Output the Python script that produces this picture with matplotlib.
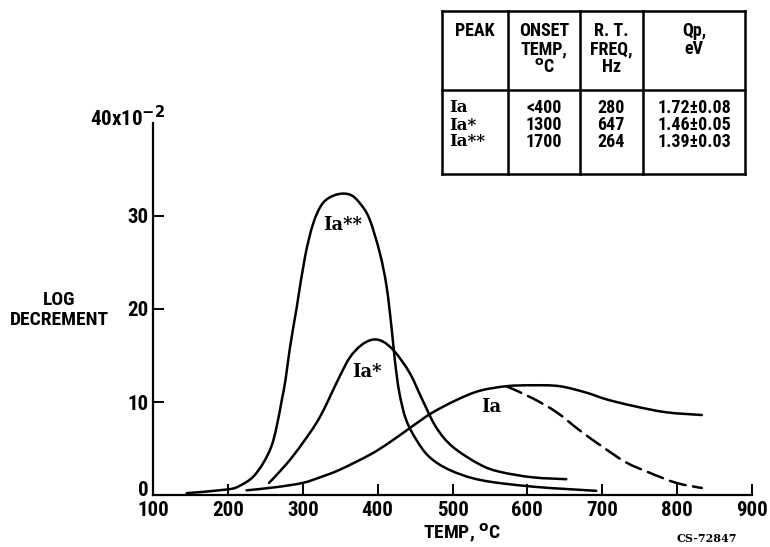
import numpy as np
import matplotlib
matplotlib.use("Agg")
import matplotlib.pyplot as plt
from matplotlib.lines import Line2D
from matplotlib.path import Path
from matplotlib.patches import PathPatch
import matplotlib.transforms as mtransforms

plt.rcParams["font.family"] = ["Roboto Condensed", "Liberation Sans Narrow", "DejaVu Sans"]
plt.rcParams["font.weight"] = "bold"

# peak Ia**
t_ia2 = [145, 200, 216, 233, 247, 258, 265, 272, 277, 283, 292, 303, 314, 327, 345,
         363, 376, 389, 403, 412, 419, 423, 429, 438, 452, 469, 496, 538, 607, 692]
v_ia2 = [0.2, 0.6, 1.0, 1.9, 3.4, 5.2, 7.3, 10.2, 12.4, 15.9, 20.2, 25.6, 29.2, 31.4,
         32.3, 32.3, 31.4, 29.7, 26.0, 22.4, 17.7, 14.5, 11.0, 8.1, 5.9, 4.1, 2.7, 1.6,
         0.9, 0.45]

# peak Ia*
t_ia1 = [255, 279, 300, 323, 349, 363, 378, 393, 407, 423, 443, 460, 478, 500, 536,
         563, 607, 652]
v_ia1 = [1.3, 3.4, 5.6, 8.4, 12.7, 14.8, 16.1, 16.7, 16.5, 15.4, 13.1, 10.2, 7.3,
         5.2, 3.3, 2.5, 1.9, 1.7]

# peak Ia, solid branch
t_ia = [225, 265, 300, 323, 349, 389, 415, 443, 472, 505, 536, 572, 607, 643, 679,
        705, 740, 785, 833]
v_ia = [0.5, 0.85, 1.3, 1.9, 2.7, 4.3, 5.6, 7.2, 8.8, 10.2, 11.2, 11.7, 11.8, 11.7,
        11.0, 10.3, 9.6, 8.9, 8.6]

# peak Ia, dashed branch
t_ia_d = [572, 607, 639, 669, 700, 732, 763, 799, 833]
v_ia_d = [11.7, 10.4, 8.9, 7.0, 5.2, 3.5, 2.4, 1.3, 0.75]

x_ticks = [100, 200, 300, 400, 500, 600, 700, 800, 900]
y_ticks = [0, 10, 20, 30]

table_header = ["PEAK", "ONSET\nTEMP,\n$^{\\mathbf{o}}$C", "R. T.\nFREQ,\nHz", "Qp,\neV"]
table_peaks = ["Ia", "Ia*", "Ia**"]
table_onset = ["<400", "1300", "1700"]
table_freq = ["280", "647", "264"]
table_qp = ["1.72±0.08", "1.46±0.05", "1.39±0.03"]

W, H = 770, 547
fig = plt.figure(figsize=(7.7, 5.47), dpi=100)


def fx(px):
    return px / W


def fy(py):
    return 1 - py / H


def smooth_path(xs, ys):
    # bezier path through the read points (Catmull-Rom handles)
    p = np.column_stack([xs, ys]).astype(float)
    verts = [p[0]]
    codes = [Path.MOVETO]
    n = len(p)
    for i in range(n - 1):
        p0 = p[i - 1] if i > 0 else p[i]
        p3 = p[i + 2] if i + 2 < n else p[i + 1]
        c1 = p[i] + (p[i + 1] - p0) / 6
        c2 = p[i + 1] - (p3 - p[i]) / 6
        verts += [c1, c2, p[i + 1]]
        codes += [Path.CURVE4] * 3
    return Path(verts, codes)


ax = fig.add_axes([fx(153), fy(495), fx(752) - fx(153), fy(123) - fy(495)])
lw = 1.8
for xs, ys, ls in [(t_ia2, v_ia2, "-"), (t_ia1, v_ia1, "-"), (t_ia, v_ia, "-"),
                   (t_ia_d, v_ia_d, (0, (6.5, 3)))]:
    ax.add_patch(PathPatch(smooth_path(xs, ys), fill=False, edgecolor="black",
                           lw=lw, linestyle=ls, capstyle="round"))

ax.set_xlim(100, 900)
ax.set_ylim(0, 40)
ax.spines["top"].set_visible(False)
ax.spines["right"].set_visible(False)
ax.spines["left"].set_linewidth(1.6)
ax.spines["bottom"].set_linewidth(1.6)
ax.set_xticks(x_ticks)
ax.set_yticks(y_ticks)
ax.tick_params(axis="both", direction="in", length=8, width=1.4, labelsize=15)
ax.tick_params(axis="x", pad=4)
ax.tick_params(axis="y", pad=3)
# the zero label sits a little above the axis in the original
lab0 = ax.get_yticklabels()[0]
lab0.set_transform(lab0.get_transform() +
                   mtransforms.ScaledTranslation(0, 5 / 72, fig.dpi_scale_trans))

serif = ["DejaVu Serif"]
ax.text(353, 29, "Ia**", fontsize=13, ha="center", va="center", family=serif)
ax.text(385, 13.2, "Ia*", fontsize=13, ha="center", va="center", family=serif)
ax.text(552, 9.5, "Ia", fontsize=13, ha="center", va="center", family=serif)

fig.text(fx(128), fy(118), "40x10$^{\\mathbf{-2}}$", fontsize=15, ha="center", va="center")
fig.text(fx(59), fy(310), "LOG\nDECREMENT", fontsize=14, ha="center", va="center",
         linespacing=1.15)
fig.text(fx(462), fy(533), "TEMP, $^{\\mathbf{o}}$C", fontsize=14, ha="center", va="center")
fig.text(fx(707), fy(539), "CS-72847", fontsize=8, ha="center", va="center",
         family="DejaVu Serif")

# table in the upper right
left, right, top, bottom, mid = 442, 745, 11, 174, 90
cols = [442, 508, 580, 643, 745]
for px in cols:
    fig.add_artist(Line2D([fx(px), fx(px)], [fy(top), fy(bottom)], color="black", lw=1.8))
for py in [top, mid, bottom]:
    fig.add_artist(Line2D([fx(left), fx(right)], [fy(py), fy(py)], color="black", lw=1.8))

for i, head in enumerate(table_header):
    xc = (cols[i] + cols[i + 1]) / 2
    fig.text(fx(xc), fy(22), head, fontsize=13, ha="center", va="top", linespacing=1.0)

rows_y = [108, 125, 142]
for j in range(3):
    fig.text(fx(449), fy(rows_y[j]), table_peaks[j], fontsize=12, ha="left", va="center",
             family=serif)
    fig.text(fx(544), fy(rows_y[j]), table_onset[j], fontsize=13, ha="center", va="center")
    fig.text(fx(611), fy(rows_y[j]), table_freq[j], fontsize=13, ha="center", va="center")
    fig.text(fx(694), fy(rows_y[j]), table_qp[j], fontsize=13, ha="center", va="center")

fig.savefig("out.png", dpi=100)
